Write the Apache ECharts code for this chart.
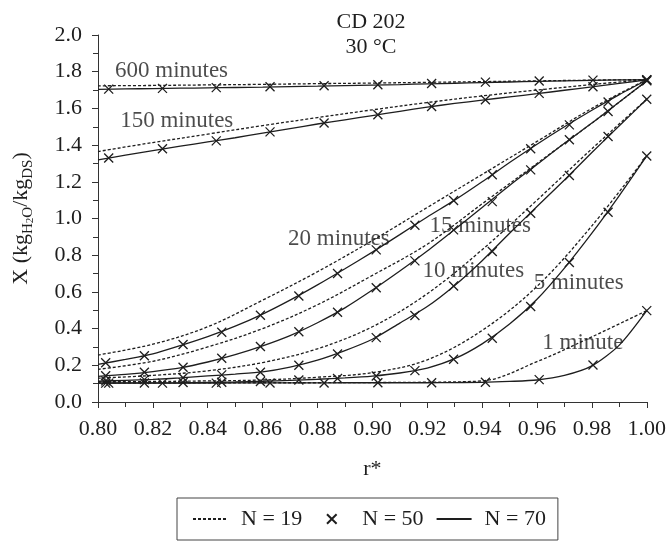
<!DOCTYPE html>
<html>
<head>
<meta charset="utf-8">
<script src="https://cdn.jsdelivr.net/npm/echarts@6/dist/echarts.min.js"></script>
<style>
  html, body { margin: 0; padding: 0; background: #fff; }
  #chart { width: 669px; height: 541px; }
</style>
</head>
<body>
<div id="chart"></div>
<script>
// Radial positions r* of each discretisation
const R19 = [0.80, 0.82, 0.84, 0.86, 0.88, 0.90, 0.92, 0.94, 0.96, 0.98, 1.00];
const R70 = [0.80, 0.81, 0.82, 0.83, 0.84, 0.85, 0.86, 0.87, 0.88, 0.89, 0.90,
             0.91, 0.92, 0.93, 0.94, 0.95, 0.96, 0.97, 0.98, 0.99, 1.00];
const R50A = [0.8039, 0.8235, 0.8431, 0.8627, 0.8824, 0.9020, 0.9216, 0.9412, 0.9608, 0.9804, 1.0];
const R50B = [0.8028, 0.8169, 0.8310, 0.8451, 0.8592, 0.8732, 0.8873, 0.9014, 0.9155,
              0.9296, 0.9437, 0.9577, 0.9718, 0.9859, 1.0];

// N = 19 (dotted)
const n19_600 = [1.723, 1.725, 1.728, 1.731, 1.735, 1.738, 1.742, 1.746, 1.750, 1.754, 1.757];
const n19_150 = [1.365, 1.414, 1.460, 1.506, 1.550, 1.592, 1.632, 1.668, 1.700, 1.730, 1.757];
const n19_20  = [0.256, 0.315, 0.410, 0.555, 0.710, 0.880, 1.060, 1.240, 1.420, 1.600, 1.757];
const n19_15  = [0.178, 0.222, 0.300, 0.400, 0.530, 0.690, 0.860, 1.080, 1.300, 1.520, 1.750];
const n19_10  = [0.130, 0.145, 0.170, 0.215, 0.290, 0.410, 0.590, 0.830, 1.100, 1.380, 1.650];
const n19_5   = [0.110, 0.112, 0.115, 0.120, 0.135, 0.160, 0.230, 0.390, 0.630, 0.960, 1.341];
const n19_1   = [0.104, 0.104, 0.104, 0.105, 0.105, 0.106, 0.108, 0.115, 0.220, 0.355, 0.498];

// N = 50 (crosses)
const n50_600 = [1.705, 1.709, 1.713, 1.718, 1.723, 1.729, 1.736, 1.743, 1.749, 1.754, 1.757];
const n50_150 = [1.330, 1.380, 1.423, 1.472, 1.520, 1.565, 1.610, 1.647, 1.682, 1.718, 1.755];
const n50_1   = [0.103, 0.103, 0.103, 0.104, 0.104, 0.105, 0.105, 0.108, 0.122, 0.202, 0.498];
const n50_20  = [0.214, 0.252, 0.313, 0.380, 0.473, 0.578, 0.700, 0.829, 0.963, 1.098, 1.238, 1.380, 1.510, 1.635, 1.755];
const n50_15  = [0.143, 0.162, 0.189, 0.238, 0.302, 0.383, 0.489, 0.623, 0.769, 0.938, 1.092, 1.265, 1.429, 1.583, 1.750];
const n50_10  = [0.115, 0.122, 0.132, 0.148, 0.162, 0.200, 0.262, 0.351, 0.471, 0.632, 0.820, 1.029, 1.234, 1.447, 1.650];
const n50_5   = [0.103, 0.104, 0.106, 0.108, 0.112, 0.120, 0.128, 0.142, 0.171, 0.233, 0.347, 0.520, 0.760, 1.034, 1.341];

// N = 70 (solid)
const n70_600 = [1.704, 1.706, 1.708, 1.710, 1.712, 1.714, 1.716, 1.719, 1.721, 1.724, 1.727,
                 1.730, 1.734, 1.737, 1.741, 1.744, 1.747, 1.750, 1.753, 1.755, 1.757];
const n70_150 = [1.320, 1.345, 1.370, 1.394, 1.417, 1.440, 1.465, 1.490, 1.515, 1.538, 1.561,
                 1.584, 1.607, 1.627, 1.645, 1.663, 1.680, 1.699, 1.717, 1.736, 1.755];
const n70_20  = [0.205, 0.232, 0.262, 0.307, 0.356, 0.413, 0.479, 0.555, 0.638, 0.726, 0.817,
                 0.912, 1.008, 1.100, 1.200, 1.305, 1.405, 1.500, 1.590, 1.675, 1.755];
const n70_15  = [0.140, 0.151, 0.166, 0.186, 0.218, 0.258, 0.306, 0.362, 0.432, 0.513, 0.610,
                 0.714, 0.823, 0.940, 1.060, 1.180, 1.295, 1.410, 1.520, 1.635, 1.750];
const n70_10  = [0.113, 0.118, 0.123, 0.131, 0.142, 0.152, 0.164, 0.190, 0.228, 0.280, 0.342,
                 0.430, 0.520, 0.635, 0.770, 0.920, 1.065, 1.210, 1.360, 1.505, 1.650];
const n70_5   = [0.103, 0.104, 0.104, 0.105, 0.107, 0.109, 0.113, 0.118, 0.124, 0.131, 0.141,
                 0.158, 0.185, 0.236, 0.317, 0.425, 0.560, 0.730, 0.920, 1.125, 1.341];
const n70_1   = [0.103, 0.103, 0.103, 0.103, 0.103, 0.104, 0.104, 0.104, 0.104, 0.105, 0.105,
                 0.105, 0.105, 0.106, 0.107, 0.112, 0.120, 0.145, 0.197, 0.310, 0.498];

// Curve annotations (text, r*, X)
const curveLabels = ['600 minutes', '150 minutes', '20 minutes', '15 minutes', '10 minutes', '5 minutes', '1 minute'];
const curveLabelR = [0.8268, 0.8287, 0.8878, 0.9393, 0.9368, 0.9752, 0.9767];
const curveLabelX = [1.805, 1.532, 0.889, 0.960, 0.714, 0.649, 0.322];

const FONT = '"Liberation Serif", "DejaVu Serif", serif';
const INK = '#1e1e1e';
const CROSS = 'path://M0,0L10,10M10,0L0,10';

const pairs = (rs, vs) => rs.map((r, i) => [r, vs[i]]);

const dotted = [n19_600, n19_150, n19_20, n19_15, n19_10, n19_5, n19_1];
const crosses = [
  [R50A, n50_600], [R50A, n50_150], [R50B, n50_20], [R50B, n50_15],
  [R50B, n50_10], [R50B, n50_5], [R50A, n50_1]
];
const solid = [n70_600, n70_150, n70_20, n70_15, n70_10, n70_5, n70_1];

const series = [];
dotted.forEach(v => series.push({
  name: 'N = 19', type: 'line', data: pairs(R19, v),
  smooth: 0.35, symbol: 'none', silent: true,
  color: INK,
  lineStyle: { color: INK, width: 1.3, type: [3, 2] },
  z: 2
}));
crosses.forEach(([r, v]) => series.push({
  name: 'N = 50', type: 'line', data: pairs(r, v),
  symbol: CROSS, symbolSize: 9, showSymbol: true, silent: true,
  color: INK,
  itemStyle: { color: INK, borderColor: INK, borderWidth: 1.3 },
  lineStyle: { width: 0, opacity: 0 },
  z: 4
}));
solid.forEach(v => series.push({
  name: 'N = 70', type: 'line', data: pairs(R70, v),
  smooth: 0.25, symbol: 'none', silent: true,
  color: INK,
  lineStyle: { color: INK, width: 1.3, type: 'solid' },
  z: 3
}));
series.push({
  name: 'labels', type: 'scatter', silent: true, symbolSize: 0,
  data: curveLabels.map((t, i) => [curveLabelR[i], curveLabelX[i], t]),
  label: {
    show: true, position: 'inside', formatter: p => p.data[2],
    fontFamily: FONT, fontSize: 23, color: INK
  },
  z: 5
});

const chart = echarts.init(document.getElementById('chart'), null, { renderer: 'canvas' });
chart.setOption({
  backgroundColor: '#ffffff',
  animation: false,
  grid: { left: 98, right: 20, top: 35, bottom: 139, containLabel: false },
  xAxis: {
    type: 'value', min: 0.80, max: 1.00, interval: 0.02,
    name: 'r*', nameLocation: 'middle', nameGap: 56,
    nameTextStyle: { fontFamily: FONT, fontSize: 22, color: INK },
    axisLine: { lineStyle: { color: '#333', width: 1 } },
    axisTick: { show: true, length: 6, lineStyle: { color: '#333' } },
    minorTick: { show: true, splitNumber: 2, length: 5, lineStyle: { color: '#333' } },
    splitLine: { show: false },
    axisLabel: { fontFamily: FONT, fontSize: 22, color: INK, margin: 16,
                 formatter: v => v.toFixed(2) }
  },
  yAxis: {
    type: 'value', min: 0, max: 2.0, interval: 0.2,
    name: '{a|X (kg}{b|H}{c|2}{b|O}{a|/kg}{b|DS}{a|)}',
    nameLocation: 'middle', nameGap: 62,
    nameTextStyle: {
      fontFamily: FONT, color: INK,
      rich: {
        a: { fontFamily: FONT, fontSize: 22, lineHeight: 30, color: INK },
        b: { fontFamily: FONT, fontSize: 15, lineHeight: 30, verticalAlign: 'bottom', color: INK },
        c: { fontFamily: FONT, fontSize: 11, lineHeight: 30, verticalAlign: 'bottom', color: INK }
      }
    },
    axisLine: { show: true, lineStyle: { color: '#333', width: 1 } },
    axisTick: { show: true, length: 6, lineStyle: { color: '#333' } },
    minorTick: { show: true, splitNumber: 2, length: 5, lineStyle: { color: '#333' } },
    splitLine: { show: false },
    axisLabel: { fontFamily: FONT, fontSize: 22, color: INK, margin: 16,
                 formatter: v => v.toFixed(1) }
  },
  legend: {
    data: [
      { name: 'N = 19', itemStyle: { opacity: 0 } },
      { name: 'N = 50' },
      { name: 'N = 70', itemStyle: { opacity: 0 } }
    ],
    left: 177, top: 498,
    orient: 'horizontal',
    padding: [10, 12, 10, 15],
    borderColor: '#444', borderWidth: 1,
    itemWidth: 35, itemHeight: 12, itemGap: 12,
    selectedMode: false,
    textStyle: { fontFamily: FONT, fontSize: 22, color: INK, padding: [0, 0, 0, 8] }
  },
  graphic: [
    { type: 'text', x: 371, y: 22, silent: true,
      style: { text: 'CD 202', fontFamily: FONT, fontSize: 22, fill: INK, align: 'center', verticalAlign: 'middle' } },
    { type: 'text', x: 371, y: 47, silent: true,
      style: { text: '30 °C', fontFamily: FONT, fontSize: 22, fill: INK, align: 'center', verticalAlign: 'middle' } }
  ],
  series: series
});
</script>
</body>
</html>
